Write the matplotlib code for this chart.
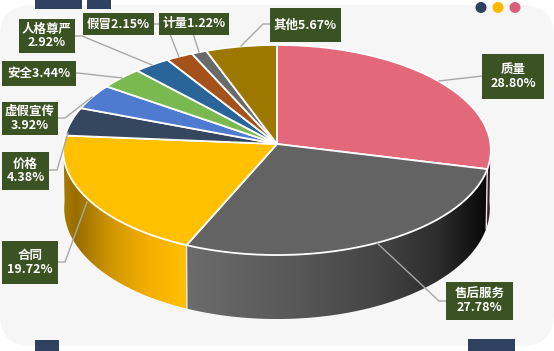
import numpy as np
import matplotlib
matplotlib.use('agg')
import matplotlib.pyplot as plt
from matplotlib.patches import Polygon, FancyBboxPatch, Rectangle, Circle

plt.rcParams['font.family'] = ['Noto Sans CJK SC', 'DejaVu Sans']

# 数据
categories = ['质量', '售后服务', '合同', '价格', '虚假宣传', '安全', '人格尊严', '假冒', '计量', '其他']
values = [28.80, 27.78, 19.72, 4.38, 3.92, 3.44, 2.92, 2.15, 1.22, 5.67]
colors = ['#E2687A', '#636363', '#FFC000', '#35475F', '#4E7BD0',
          '#7AB850', '#2A659A', '#A5511A', '#6A6A6A', '#9C7800']

# 标签框 (x0, y0, x1, y1) 和换行方式
boxes = [(482, 54, 544, 99), (446, 282, 513, 320), (2, 241, 58, 284), (2, 152, 49, 190),
         (2, 102, 58, 135), (2, 61, 76, 86), (19, 19, 75, 53), (83, 13, 154, 35),
         (159, 13, 229, 35), (270, 8, 341, 42)]
seps = ['\n', '\n', '\n', '\n', '\n', '', '\n', '', '', '']
leaders = [[(439, 81), (482, 76)],
           [(377, 243), (439, 301), (446, 301)],
           [(87, 202), (65, 262), (58, 262)],
           [(68, 133), (57, 170), (49, 170)],
           [(92, 97), (65, 118), (58, 118)],
           [(122, 78), (78, 73), (76, 73)],
           [(152, 65), (82, 36), (75, 36)],
           [(179, 57), (166, 24), (154, 24)],
           [(199, 52), (190, 24), (200, 24)],
           [(241, 46), (263, 24), (270, 24)]]

cx, cy, rx, a, k = 277, 144, 213.5, 104.7, 0.057


def project(deg, bottom=False):
    # 角度从12点方向顺时针，带一点透视
    t = np.radians(deg)
    c, s = np.sin(t), -np.cos(t)
    x = rx * c / (1 - k * s)
    y = a * s / (1 - k * s)
    if bottom:
        x = x * 0.995
        y = y + 58 + 6 * np.maximum(s, 0)
    return cx + x, cy + y


def ramp(x, stops):
    xs = [p[0] for p in stops]
    rgb = np.array([matplotlib.colors.to_rgb(p[1]) for p in stops])
    return np.stack([np.interp(x, xs, rgb[:, i]) for i in range(3)], axis=-1)


gray_side = [(186, '#6C6C6C'), (300, '#575757'), (380, '#444444'), (440, '#2C2C2C'), (487, '#080808')]
yellow_side = [(64, '#A87A00'), (76, '#986E00'), (110, '#CF9500'), (150, '#F5B000'), (187, '#FFC000')]
pink_side = [(480, '#3A1A20'), (492, '#3A1A20')]
side_ramps = {0: pink_side, 1: gray_side, 2: yellow_side}

fig = plt.figure(figsize=(5.54, 3.51), dpi=100)
ax = fig.add_axes([0, 0, 1, 1])

# 背景
ax.add_patch(FancyBboxPatch((0, 5), 554, 341, boxstyle='round,pad=0,rounding_size=32', lw=0, fc='#F6F6F6'))
for x0, y0, w, h in [(35, 0, 47, 9), (87, 0, 24, 9), (35, 340, 24, 11), (468, 339, 47, 12)]:
    ax.add_patch(Rectangle((x0, y0), w, h, lw=0, fc='#2E4160'))
for x0, col in [(481, '#2E4160'), (498, '#FFB900'), (515, '#D9607A')]:
    ax.add_patch(Circle((x0, 7.5), 5.5, lw=0, fc=col))

edges = np.concatenate([[0], np.cumsum(values)]) * 3.6
edges[-1] = 360

# 侧面用横向渐变图，再按侧面形状裁剪
for i in [0, 2, 1]:
    start, end = edges[i], edges[i + 1]
    if i == 0:
        start = 90
    if i == 2:
        end = 270
    steps = np.linspace(start, end, 140)
    xt, yt = project(steps)
    xb, yb = project(steps[::-1], True)
    pts = list(zip(xt, yt)) + list(zip(xb, yb))
    side = Polygon(pts, fc='none', ec='none', transform=ax.transData)
    ax.add_patch(side)
    x_all = np.concatenate([xt, xb])
    y_all = np.concatenate([yt, yb])
    grid = np.linspace(x_all.min(), x_all.max(), 300)
    im = ax.imshow(ramp(grid, side_ramps[i])[np.newaxis, :, :], aspect='auto', zorder=2, interpolation='bilinear',
                   extent=(x_all.min(), x_all.max(), y_all.max(), y_all.min()))
    im.set_clip_path(side)

# 扇区间的侧面白线
for t in edges[1:3]:
    x0, y0 = project(t)
    x1, y1 = project(t, True)
    ax.plot([x0, x1], [y0, y1], color='#E8E8E8', lw=1.0, zorder=3)

# 顶面
for i in range(len(values)):
    steps = np.linspace(edges[i], edges[i + 1], 80)
    xs, ys = project(steps)
    pts = [(cx, cy)] + list(zip(xs, ys))
    ax.add_patch(Polygon(pts, fc=colors[i], ec='white', lw=1.3, joinstyle='round', zorder=4))

# 引导线和标签
for pts in leaders:
    ax.plot([p[0] for p in pts], [p[1] for p in pts], color='#A8A8A8', lw=1.0, zorder=5)
for name, val, box, sep in zip(categories, values, boxes, seps):
    x0, y0, x1, y1 = box
    ax.add_patch(Rectangle((x0, y0), x1 - x0, y1 - y0, lw=0, fc='#3B5323', zorder=6))
    ax.text((x0 + x1) / 2, (y0 + y1) / 2, f'{name}{sep}{val:.2f}%', color='white', fontsize=9,
            fontweight='bold', ha='center', va='center', linespacing=1.05, zorder=7)

ax.set_xlim(0, 554)
ax.set_ylim(351, 0)
ax.axis('off')
fig.savefig('out.png', dpi=100, facecolor='white')
